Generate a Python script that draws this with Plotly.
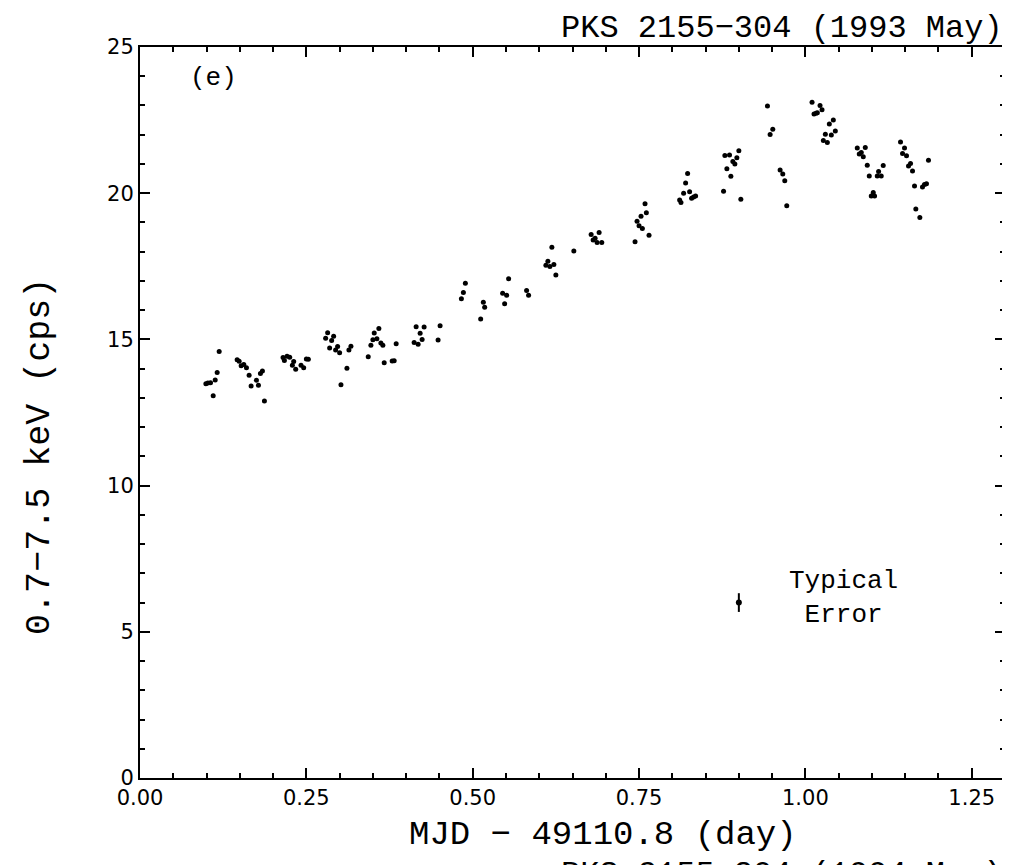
import plotly.graph_objects as go

# time offset from MJD 49110.8 (day) and 0.7-7.5 keV count rate (cps)
mjd = [
    0.099, 0.102, 0.106, 0.110, 0.113, 0.116, 0.119,
    0.146, 0.149, 0.152, 0.156, 0.160, 0.164, 0.167, 0.175, 0.178, 0.181, 0.184, 0.187,
    0.215, 0.217, 0.221, 0.225, 0.229, 0.231, 0.234, 0.242, 0.246, 0.250, 0.253,
    0.279, 0.282, 0.285, 0.288, 0.291, 0.294, 0.297, 0.300, 0.302, 0.311, 0.314, 0.317,
    0.343, 0.347, 0.350, 0.352, 0.356, 0.359, 0.362, 0.365, 0.367, 0.379, 0.382, 0.385,
    0.412, 0.415, 0.418, 0.421, 0.424, 0.427, 0.448, 0.451,
    0.483, 0.486, 0.489,
    0.512, 0.516, 0.518,
    0.545, 0.548, 0.551, 0.554, 0.581, 0.584,
    0.610, 0.613, 0.616, 0.619, 0.622, 0.625, 0.652,
    0.678, 0.681, 0.684, 0.687, 0.690, 0.694,
    0.744, 0.747, 0.750, 0.753, 0.755, 0.759, 0.761, 0.765,
    0.811, 0.813, 0.817, 0.820, 0.823, 0.826, 0.829, 0.832, 0.835,
    0.877, 0.879, 0.882, 0.886, 0.888, 0.891, 0.894, 0.897, 0.900, 0.903,
    0.943, 0.947, 0.951, 0.962, 0.966, 0.969, 0.972,
    1.010, 1.013, 1.016, 1.018, 1.022, 1.025, 1.027, 1.030, 1.033, 1.036, 1.039, 1.042, 1.045,
    1.078, 1.081, 1.084, 1.087, 1.090, 1.093, 1.096, 1.099, 1.102, 1.104, 1.108, 1.110, 1.114, 1.117,
    1.143, 1.146, 1.149, 1.152, 1.155, 1.158, 1.161, 1.164, 1.166, 1.172, 1.176, 1.179, 1.182, 1.185,
]
rate = [
    13.48, 13.51, 13.52, 13.07, 13.61, 13.87, 14.59,
    14.30, 14.25, 14.10, 14.14, 14.03, 13.77, 13.41, 13.60, 13.43, 13.83, 13.92, 12.89,
    14.38, 14.28, 14.42, 14.39, 14.12, 14.24, 13.98, 14.12, 14.03, 14.33, 14.32,
    15.04, 15.23, 14.71, 14.96, 15.11, 14.64, 14.76, 14.54, 13.45, 14.01, 14.64, 14.77,
    14.41, 14.80, 14.99, 15.22, 15.02, 15.37, 14.88, 14.80, 14.20, 14.26, 14.27, 14.85,
    14.89, 15.43, 14.83, 15.21, 15.00, 15.42, 14.98, 15.47,
    16.39, 16.60, 16.92,
    15.70, 16.27, 16.10,
    16.58, 16.22, 16.51, 17.07, 16.67, 16.51,
    17.54, 17.67, 17.49, 18.15, 17.56, 17.20, 18.02,
    18.59, 18.40, 18.46, 18.31, 18.66, 18.31,
    18.34, 19.04, 18.89, 19.21, 18.79, 19.64, 19.33, 18.56,
    19.77, 19.68, 20.00, 20.35, 20.67, 20.05, 19.83, 19.87, 19.90,
    20.07, 21.29, 20.84, 21.31, 20.58, 21.08, 21.00, 21.21, 21.45, 19.79,
    22.98, 22.01, 22.19, 20.79, 20.66, 20.43, 19.57,
    23.11, 22.71, 22.73, 22.75, 23.00, 22.85, 21.80, 22.02, 21.73, 22.37, 21.99, 22.50, 22.13,
    21.55, 21.34, 21.39, 21.25, 21.56, 20.96, 20.59, 19.90, 20.02, 19.90, 20.59, 20.74, 20.59, 20.95,
    21.75, 21.36, 21.55, 21.28, 20.93, 21.02, 20.76, 20.25, 19.46, 19.17, 20.21, 20.30, 20.32, 21.13,
]

# typical error marker
err_x = [0.90]
err_y = [6.0]
err_size = [0.32]

serif = "Liberation Mono, monospace"
sans = "DejaVu Sans"

fig = go.Figure()

fig.add_trace(go.Scatter(
    x=mjd, y=rate, mode="markers",
    marker=dict(color="black", size=5),
    showlegend=False,
))

fig.add_trace(go.Scatter(
    x=err_x, y=err_y, mode="markers",
    marker=dict(color="black", size=6),
    error_y=dict(type="data", array=err_size, color="black", thickness=2, width=0),
    showlegend=False,
))

axis_style = dict(
    showgrid=False, zeroline=False,
    showline=True, linecolor="black", linewidth=2, mirror="ticks",
    ticks="inside", ticklen=10, tickwidth=1.5, tickcolor="black",
    tickfont=dict(family=sans, size=21, color="black"),
)

fig.update_xaxes(
    range=[0, 1.3], tickmode="array",
    tickvals=[0, 0.25, 0.5, 0.75, 1.0, 1.25],
    ticktext=["0.00", "0.25", "0.50", "0.75", "1.00", "1.25"],
    minor=dict(ticks="inside", dtick=0.05, ticklen=5, tickwidth=1.5, tickcolor="black"),
    **axis_style,
)
fig.update_yaxes(
    range=[0, 25], dtick=5,
    minor=dict(ticks="inside", dtick=1, ticklen=5, tickwidth=1.5, tickcolor="black"),
    **axis_style,
)

annotations = [
    dict(text="PKS 2155\u2212304 (1993 May)", xref="paper", yref="paper",
         x=1.0, y=1.0, xanchor="right", yanchor="bottom", yshift=-2,
         font=dict(family=serif, size=32, color="black"), showarrow=False),
    dict(text="MJD \u2212 49110.8 (day)", xref="paper", yref="paper",
         x=0.535, y=-0.078, xanchor="center", yanchor="middle",
         font=dict(family=serif, size=34, color="black"), showarrow=False),
    dict(text="0.7\u22127.5 keV (cps)", xref="paper", yref="paper",
         x=-0.115, y=0.44, xanchor="center", yanchor="middle", textangle=-90,
         font=dict(family=serif, size=35, color="black"), showarrow=False),
    dict(text="(e)", x=0.11, y=23.95, xanchor="center", yanchor="middle",
         font=dict(family=serif, size=26, color="black"), showarrow=False),
    dict(text="Typical<br>Error", x=1.057, y=6.15, xanchor="center", yanchor="middle",
         font=dict(family=serif, size=26, color="black"), showarrow=False),
    dict(text="PKS 2155\u2212304 (1994 May)", xref="paper", yref="paper",
         x=1.0, y=-0.104, xanchor="right", yanchor="top",
         font=dict(family=serif, size=32, color="black"), showarrow=False),
]

# the page body has an 8 px margin, so the figure is sized to fit inside it
fig.update_layout(
    width=1002, height=857,
    margin=dict(l=132, r=3, t=39, b=87),
    plot_bgcolor="white", paper_bgcolor="white",
    annotations=annotations,
)

fig.write_html("out.html")
